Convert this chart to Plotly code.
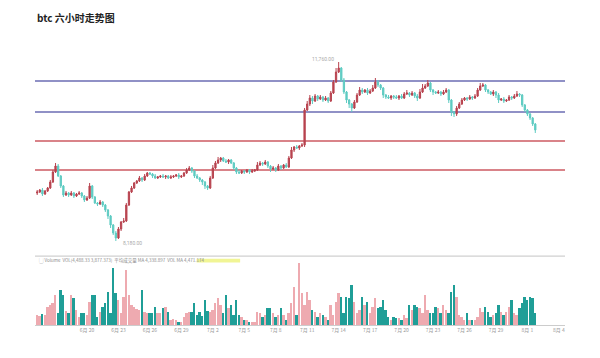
import plotly.graph_objects as go
import pandas as pd

# ---------------- data ----------------
first_open = 9140
closes = [
    9160, 9200, 9120, 9180,  9240, 9360, 9560, 9680,  9480, 9280, 9100, 9140,
    9100, 9140, 9080, 9120,  9140, 9080, 9000, 9040,  9280, 9060, 8940, 8920,
    8960, 8900, 8800, 8680,  8500, 8340, 8240, 8420,  8560, 8580, 8900, 9160,
    9240, 9340, 9380, 9440,  9400, 9480, 9540, 9520,  9480, 9440, 9460, 9480,
    9460, 9480, 9440, 9460,  9480, 9500, 9460, 9480,  9540, 9600, 9640, 9580,
    9480, 9440, 9400, 9360,  9280, 9240, 9440, 9640,  9740, 9800, 9840, 9780,
    9760, 9800, 9740, 9640,  9560, 9540, 9580, 9560,  9600, 9560, 9580, 9600,
    9700, 9740, 9720, 9760,  9680, 9620, 9640, 9600,  9680, 9640, 9700, 9660,
    9840, 10000, 10060, 10040,  10080, 10100, 10800, 10920,  11040, 10980, 11080, 11020,
    11060, 11000, 11040, 10980,  11140, 11360, 11560, 11640,  11400, 11160, 11000, 10920,
    10840, 10960, 11100, 11200,  11160, 11200, 11140, 11180,  11240, 11360, 11300, 11240,
    11100, 11060, 11040, 11080,  11060, 11040, 11080, 11040,  11120, 11140, 11100, 11140,
    11080, 11040, 11160, 11240,  11280, 11340, 11200, 11160,  11140, 11160, 11120, 11160,
    11200, 11000, 10760, 10720,  10840, 10920, 11000, 11040,  11020, 11060, 11040, 11080,
    11200, 11280, 11300, 11200,  11160, 11120, 11160, 11100,  11000, 11020, 10980, 11000,
    11060, 11040, 11080, 11120,  11100, 10900, 10800, 10720,  10640, 10520, 10400,
]
wick_up = [
    40, 20, 40, 20,  20, 40, 40, 60,  40, 20, 20, 40,  20, 40, 20, 20,  40, 20, 20, 40,
    60, 20, 20, 20,  40, 20, 20, 20,  20, 20, 40, 40,  20, 60, 40, 20,  40, 20, 20, 40,
    20, 40, 20, 20,  20, 40, 20, 20,  40, 20, 20, 40,  20, 20, 40, 20,  20, 40, 40, 20,
    20, 40, 20, 20,  20, 20, 40, 60,  40, 60, 20, 20,  40, 20, 20, 20,  20, 40, 20, 20,
    20, 20, 40, 20,  60, 40, 20, 40,  20, 20, 40, 20,  40, 20, 20, 40,  40, 60, 20, 40,
    20, 40, 40, 60,  60, 40, 40, 20,  40, 20, 40, 20,  40, 40, 80, 120,  20, 40, 20, 20,
    20, 40, 40, 60,  40, 20, 40, 40,  60, 80, 40, 20,  20, 20, 40, 20,  20, 40, 20, 40,
    40, 60, 20, 40,  20, 40, 60, 80,  40, 60, 20, 20,  20, 40, 20, 40,  40, 20, 20, 20,
    40, 40, 40, 20,  20, 40, 20, 40,  40, 60, 40, 20,  20, 20, 40, 20,  40, 20, 40, 20,
    40, 20, 40, 60,  20, 20, 20, 20,  20, 20, 20,
]
wick_dn = [
    40, 20, 40, 20,  20, 20, 20, 20,  20, 40, 40, 20,  40, 20, 40, 20,  20, 40, 40, 20,
    20, 40, 20, 40,  20, 40, 40, 60,  60, 40, 60, 20,  40, 20, 20, 20,  20, 20, 20, 20,
    40, 20, 20, 20,  40, 20, 20, 20,  20, 40, 20, 20,  20, 20, 40, 20,  20, 20, 20, 40,
    40, 20, 40, 60,  60, 40, 20, 20,  20, 20, 40, 20,  20, 40, 20, 40,  40, 20, 20, 40,
    20, 40, 20, 20,  20, 20, 40, 20,  40, 60, 20, 40,  20, 40, 20, 20,  20, 20, 40, 20,
    40, 20, 40, 20,  40, 60, 20, 40,  20, 40, 20, 40,  20, 20, 20, 20,  40, 40, 60, 80,
    80, 20, 20, 20,  40, 20, 40, 20,  20, 20, 40, 40,  60, 40, 20, 40,  40, 20, 40, 20,
    20, 20, 40, 20,  40, 60, 20, 20,  20, 20, 40, 60,  20, 20, 40, 20,  20, 60, 80, 60,
    40, 20, 20, 20,  40, 20, 40, 20,  20, 20, 20, 40,  40, 20, 40, 60,  60, 20, 40, 20,
    20, 40, 20, 20,  40, 40, 40, 40,  40, 40, 60,
]
volumes = [
    10, 9, 11, 10,  18, 20, 22, 30,  12, 35, 30, 14,  12, 30, 27, 15,  8, 12, 12, 10,
    23, 30, 30, 8,  13, 18, 22, 33,  12, 57, 32, 25,  12, 28, 55, 30,  20, 18, 16, 15,
    35, 13, 12, 12,  12, 18, 12, 12,  17, 18, 13, 5,  6, 5, 3, 3,  8, 12, 13, 13,
    22, 10, 13, 9,  25, 14, 13, 15,  22, 27, 20, 12,  30, 17, 20, 10,  25, 10, 8, 5,
    5, 3, 3, 3,  13, 12, 8, 10,  17, 17, 12, 8,  10, 17, 10, 5,  12, 22, 38, 10,
    62, 32, 20, 33,  25, 15, 13, 8,  12, 10, 8, 5,  20, 10, 23, 32,  28, 12, 28, 27,
    40, 23, 12, 15,  28, 20, 23, 12,  18, 27, 17, 18,  25, 15, 8, 5,  8, 7, 7, 5,
    10, 7, 20, 15,  20, 18, 17, 12,  30, 15, 12, 12,  18, 17, 12, 20,  15, 12, 33, 40,
    28, 10, 8, 5,  12, 5, 5, 5,  8, 17, 13, 18,  13, 8, 10, 12,  20, 13, 10, 13,
    18, 25, 12, 10,  17, 22, 28, 25,  28, 27, 12,
]
blue_levels = [11380, 10760]
red_levels = [10180, 9600]
tick_dates = ["2020-06-20", "2020-06-23", "2020-06-26", "2020-06-29", "2020-07-02",
              "2020-07-05", "2020-07-08", "2020-07-11", "2020-07-14", "2020-07-17",
              "2020-07-20", "2020-07-23", "2020-07-26", "2020-07-29", "2020-08-01",
              "2020-08-04"]
tick_labels = ["6月 20", "6月 23", "6月 26", "6月 29", "7月 2", "7月 5", "7月 8",
               "7月 11", "7月 14", "7月 17", "7月 20", "7月 23", "7月 26", "7月 29",
               "8月 1", "8月 4"]

# ---------------- derived ----------------
times = pd.date_range("2020-06-15 06:00", periods=len(closes), freq="6h")
opens = [first_open] + closes[:-1]
highs = [max(o, c) + w for o, c, w in zip(opens, closes, wick_up)]
lows = [min(o, c) - w for o, c, w in zip(opens, closes, wick_dn)]

UP = "#b8434f"
DOWN = "#5ecbc2"
VUP = "#eeaab0"
VDOWN = "#1f9e97"
vol_colors = [VUP if c >= o else VDOWN for o, c in zip(opens, closes)]

fig = go.Figure()
fig.add_trace(go.Candlestick(
    x=times, open=opens, high=highs, low=lows, close=closes,
    increasing=dict(line=dict(color=UP, width=1), fillcolor=UP),
    decreasing=dict(line=dict(color=DOWN, width=1), fillcolor=DOWN),
    whiskerwidth=0, xaxis="x", yaxis="y", showlegend=False, hoverinfo="skip",
))
fig.add_trace(go.Bar(
    x=times, y=volumes, marker=dict(color=vol_colors, line=dict(width=0)),
    width=6 * 3600 * 1000 * 0.72, xaxis="x", yaxis="y2", showlegend=False,
))

for lv in blue_levels:
    fig.add_shape(type="line", xref="paper", yref="y", x0=0, x1=1, y0=lv, y1=lv,
                  line=dict(color="#6b6db3", width=1.5), layer="below")
for lv in red_levels:
    fig.add_shape(type="line", xref="paper", yref="y", x0=0, x1=1, y0=lv, y1=lv,
                  line=dict(color="#cc5a62", width=1.5), layer="below")

# volume pane top separator
fig.add_shape(type="line", xref="paper", yref="paper", x0=0, x1=1,
              y0=0.212, y1=0.212, line=dict(color="#c4c4c4", width=1))
# yellow highlight in volume legend
fig.add_shape(type="rect", xref="paper", yref="paper", x0=0.305, x1=0.387,
              y0=0.192, y1=0.204, fillcolor="#eef27a", line=dict(width=0), opacity=0.8)

# high / low labels
hi_i = highs.index(max(highs))
lo_i = lows.index(min(lows))
fig.add_annotation(x=times[hi_i - 6], y=max(highs) + 60, xref="x", yref="y",
                   text=f"{max(highs):,}.00", showarrow=False, xanchor="center",
                   font=dict(size=5, color="#aaaaaa", family="Roboto"))
fig.add_annotation(x=times[lo_i + 2], y=min(lows) - 40, xref="x", yref="y",
                   text=f"{min(lows):,}.00", showarrow=False, xanchor="left",
                   font=dict(size=5, color="#aaaaaa", family="Roboto"))

fig.add_annotation(x=0.004, y=0.198, xref="paper", yref="paper", xanchor="left",
                   yanchor="middle", showarrow=False,
                   text="▢ Volume  VOL(4,488.33 3,877.373)  平均成交量 MA 4,338.897  VOL MA 4,471.174",
                   font=dict(size=4.5, color="#8a8a8a", family="Noto Sans CJK SC"))

fig.update_layout(
    width=600, height=358,
    margin=dict(l=35, r=35, t=0, b=33),
    paper_bgcolor="white", plot_bgcolor="white",
    title=dict(text="<b>btc 六小时走势图</b>", x=37 / 600, xanchor="left",
               y=1 - 18 / 358, yanchor="middle",
               font=dict(size=10, color="#222222", family="Noto Sans CJK SC")),
    xaxis=dict(anchor="y2", type="date",
               range=["2020-06-15 01:00", "2020-08-04 14:00"],
               tickvals=tick_dates, ticktext=tick_labels,
               tickfont=dict(size=5, color="#999999", family="Noto Sans CJK SC"),
               showgrid=False, zeroline=False, showline=True, linecolor="#cccccc",
               linewidth=1, ticks="", rangeslider=dict(visible=False)),
    yaxis=dict(domain=[0.2308, 0.8769], range=[8000, 12200], visible=False,
               showgrid=False),
    yaxis2=dict(domain=[0, 0.2062], range=[0, 67], visible=False, showgrid=False),
    bargap=0,
)

fig.write_html("out.html")
